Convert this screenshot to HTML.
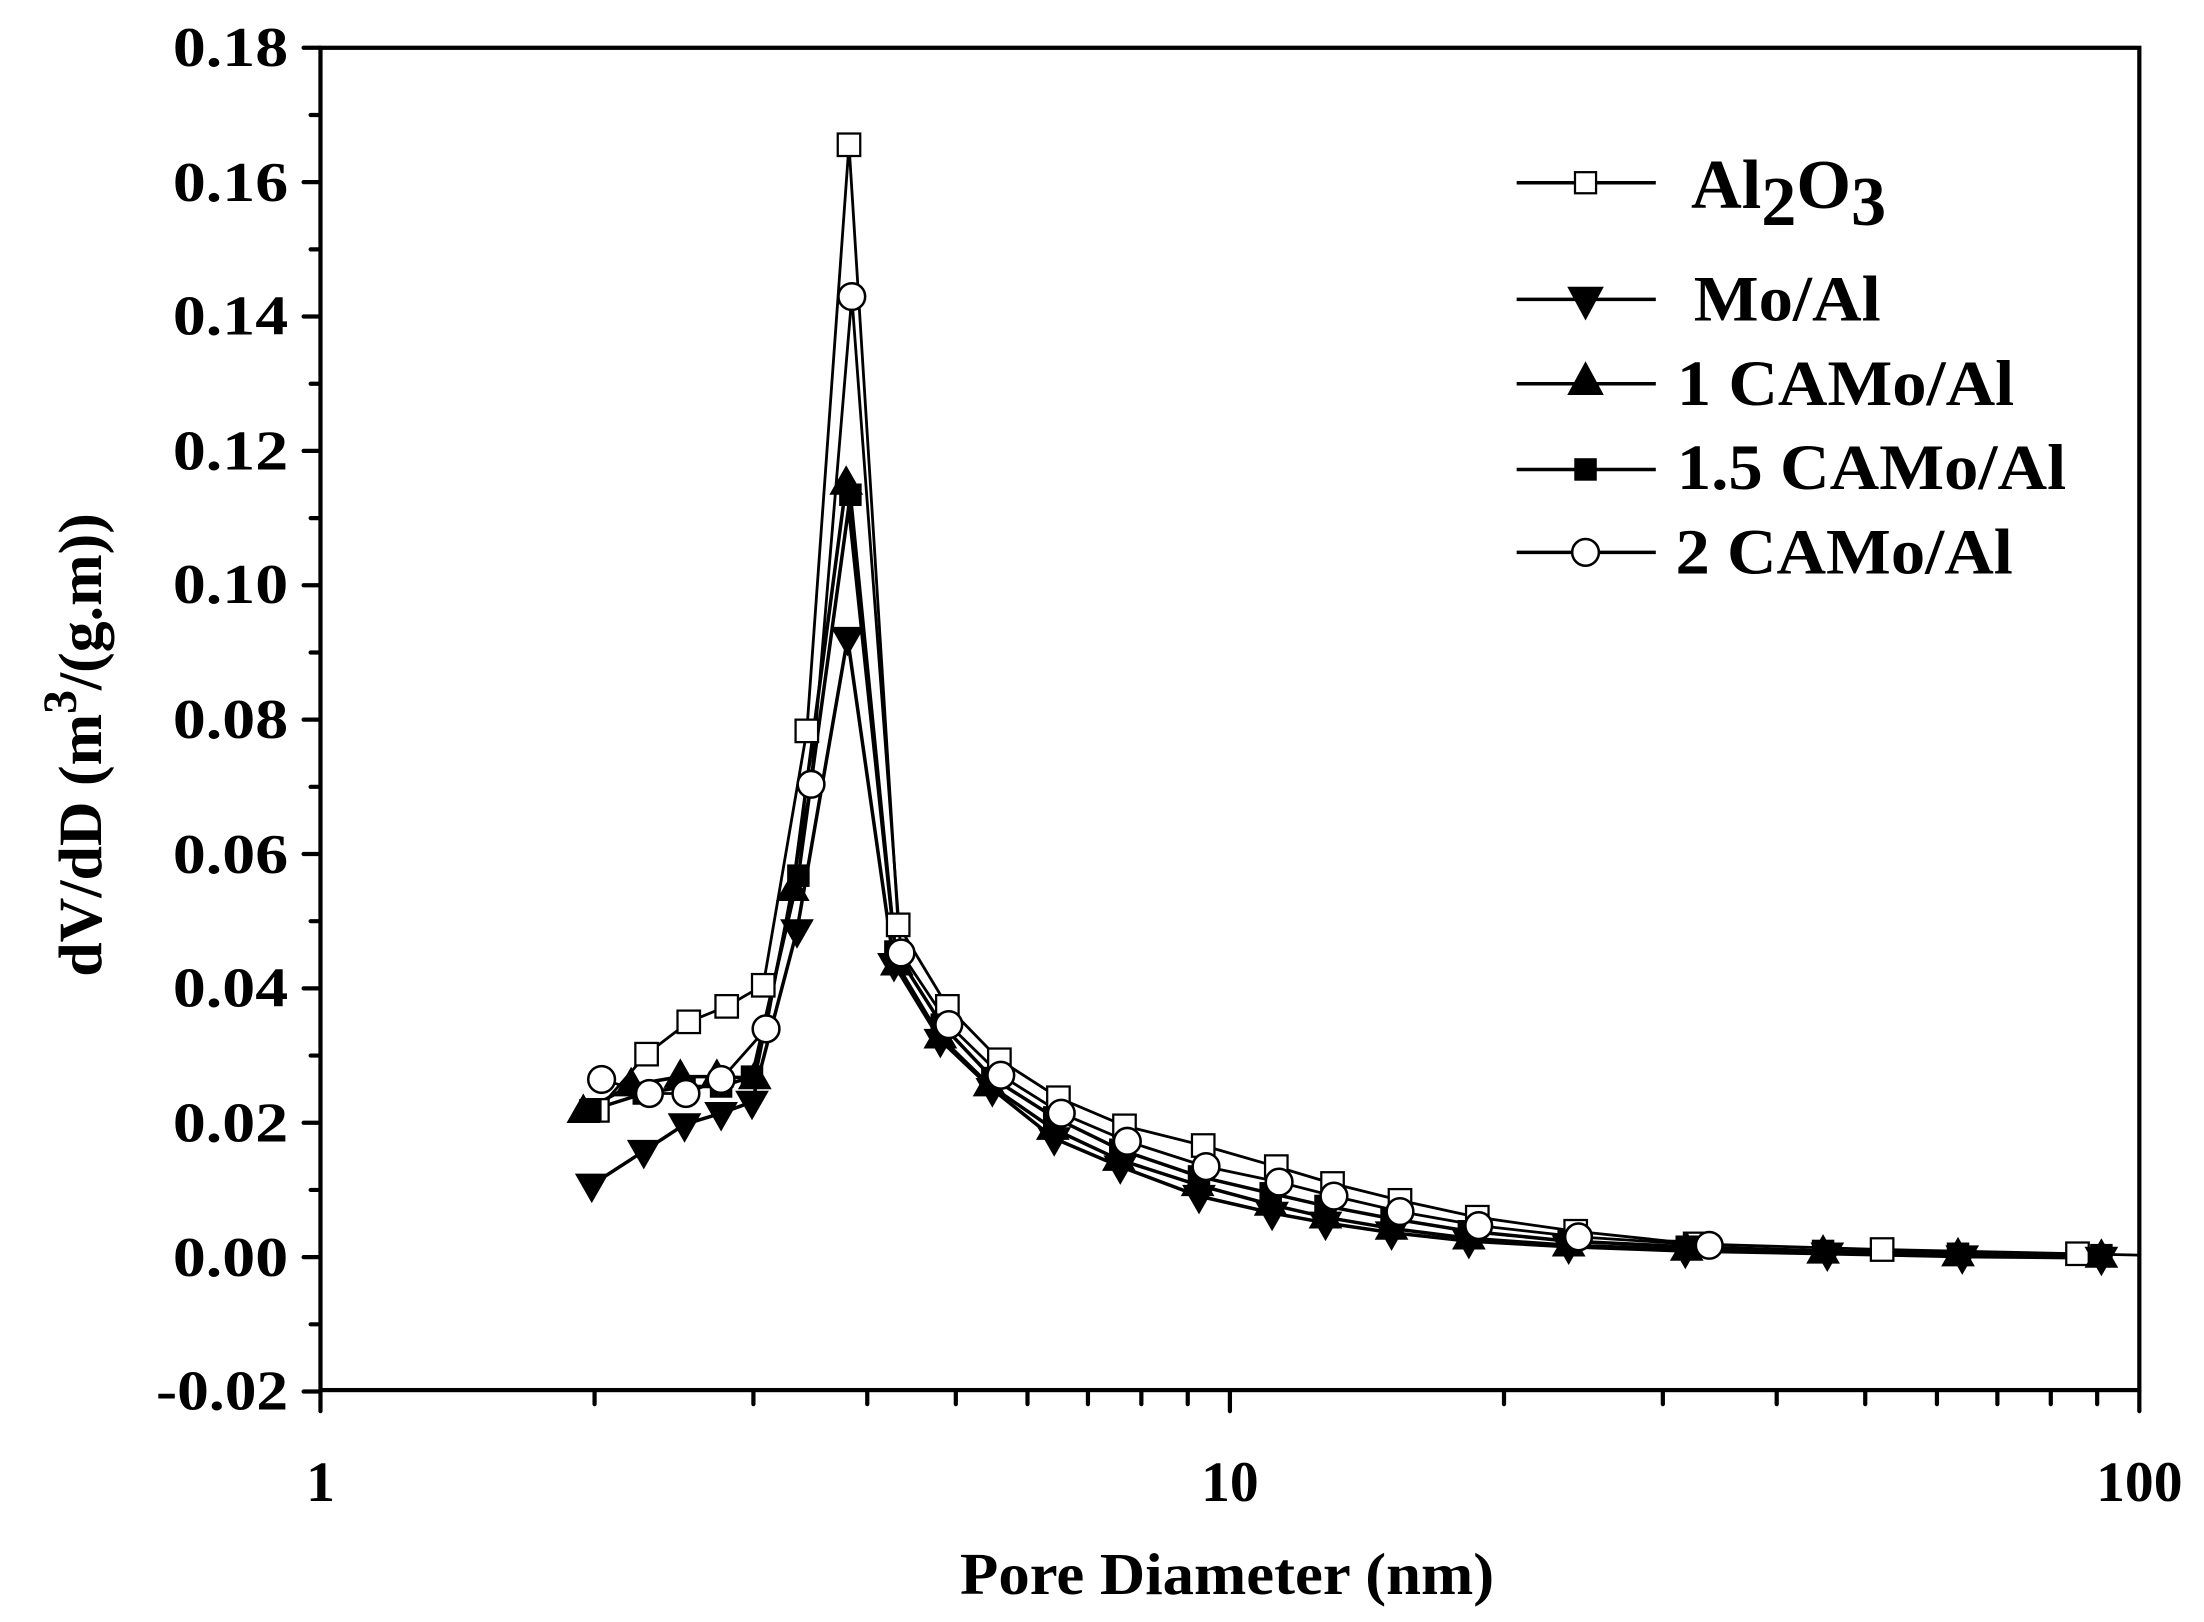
<!DOCTYPE html>
<html><head><meta charset="utf-8"><style>html,body{margin:0;padding:0;background:#fff}svg{display:block}</style></head>
<body>
<svg width="2204" height="1622" viewBox="0 0 1568 1154" preserveAspectRatio="none" xmlns="http://www.w3.org/2000/svg" font-family="'Liberation Serif', serif" font-weight="bold">
<defs>
<rect id="sq" x="-8" y="-8" width="16" height="16" fill="#fff" stroke="#000" stroke-width="1.6"/>
<rect id="fsq" x="-8" y="-8" width="16" height="16" fill="#000"/>
<circle id="ci" r="9.5" fill="#fff" stroke="#000" stroke-width="1.8"/>
<polygon id="dt" points="-12,-8 12,-8 0,13" fill="#000"/>
<polygon id="ut" points="-12,8 12,8 0,-13" fill="#000"/>
</defs>
<g stroke="#000" stroke-width="3" fill="none" stroke-linecap="round">
<rect x="228" y="34" width="1294" height="955"/>
<path d="M228,34h-12M228,129.6h-12M228,225.2h-12M228,320.8h-12M228,416.4h-12M228,512h-12M228,607.6h-12M228,703.2h-12M228,798.8h-12M228,894.4h-12M228,990h-12"/>
<path d="M228,81.8h-7M228,177.4h-7M228,273h-7M228,368.6h-7M228,464.2h-7M228,559.8h-7M228,655.4h-7M228,751h-7M228,846.6h-7M228,942.2h-7"/>
<path d="M228,989v15M875,989v15M1522,989v15"/>
<path d="M423,989v10M536,989v10M617,989v10M680,989v10M731,989v10M774,989v10M812,989v10M845,989v10M1070,989v10M1183,989v10M1264,989v10M1327,989v10M1378,989v10M1421,989v10M1459,989v10M1492,989v10"/>
</g>
<g font-size="40" text-anchor="end">
<text x="205" y="47" textLength="82" lengthAdjust="spacingAndGlyphs">0.18</text>
<text x="205" y="143" textLength="82" lengthAdjust="spacingAndGlyphs">0.16</text>
<text x="205" y="238" textLength="82" lengthAdjust="spacingAndGlyphs">0.14</text>
<text x="205" y="334" textLength="82" lengthAdjust="spacingAndGlyphs">0.12</text>
<text x="205" y="429" textLength="82" lengthAdjust="spacingAndGlyphs">0.10</text>
<text x="205" y="525" textLength="82" lengthAdjust="spacingAndGlyphs">0.08</text>
<text x="205" y="621" textLength="82" lengthAdjust="spacingAndGlyphs">0.06</text>
<text x="205" y="716" textLength="82" lengthAdjust="spacingAndGlyphs">0.04</text>
<text x="205" y="812" textLength="82" lengthAdjust="spacingAndGlyphs">0.02</text>
<text x="205" y="908" textLength="82" lengthAdjust="spacingAndGlyphs">0.00</text>
<text x="205" y="1003" textLength="94" lengthAdjust="spacingAndGlyphs">-0.02</text>
</g>
<g font-size="41" text-anchor="middle">
<text x="228" y="1068">1</text>
<text x="875" y="1068">10</text>
<text x="1522" y="1068">100</text>
</g>
<text x="873" y="1134" font-size="42" text-anchor="middle" textLength="380" lengthAdjust="spacingAndGlyphs">Pore Diameter (nm)</text>
<text transform="translate(72,530) rotate(-90)" font-size="44" text-anchor="middle">dV/dD (m<tspan dy="-18" font-size="34">3</tspan><tspan dy="18">/(g.m))</tspan></text>
<g fill="none" stroke="#000" stroke-width="2.5" stroke-linejoin="round">
<polyline stroke-width="2" points="425,790 460,750 490,727 517,716 543,701 574,520 604,103 639,658 674,716 711,754 753,781 800,801 856,815 908,830 948,842 996,854 1051,866 1121,876 1206,885 1339,889 1478,892 1522,893"/>
<polyline points="421,843 458,819 487,800 513,792 535,784 567,662 603,454 636,686 669,740 706,775 750,810 797,830 853,851 905,863 943,870 990,877 1045,883 1116,887 1199,890 1300,892 1396,894 1495,895"/>
<polyline points="415,791 449,772 484,766 510,766 537,767 564,633 602,344 638,686 669,738 704,772 749,803 796,825 852,843 904,857 943,866 990,874 1045,881 1116,886 1200,889 1297,891 1393,893 1495,894"/>
<polyline points="420,790 458,778 487,773 513,773 535,766 568,623 605,352 637,677 670,729 706,767 750,795 797,818 853,837 904,849 943,858 990,867 1045,876 1116,883 1200,887 1297,890 1393,892 1495,893"/>
<polyline stroke-width="2" points="428,768 462,778 488,778 513,768 545,732 577,558 606,211 641,678 675,729 712,765 755,792 802,812 858,830 910,841 949,851 996,862 1052,872 1123,880 1216,886"/>
</g>
<g>
<use href="#sq" x="425" y="790"/><use href="#sq" x="460" y="750"/><use href="#sq" x="490" y="727"/><use href="#sq" x="517" y="716"/><use href="#sq" x="543" y="701"/><use href="#sq" x="574" y="520"/><use href="#sq" x="604" y="103"/><use href="#sq" x="639" y="658"/><use href="#sq" x="674" y="716"/><use href="#sq" x="711" y="754"/><use href="#sq" x="753" y="781"/><use href="#sq" x="800" y="801"/><use href="#sq" x="856" y="815"/><use href="#sq" x="908" y="830"/><use href="#sq" x="948" y="842"/><use href="#sq" x="996" y="854"/><use href="#sq" x="1051" y="866"/><use href="#sq" x="1121" y="876"/><use href="#sq" x="1206" y="885"/><use href="#sq" x="1339" y="889"/><use href="#sq" x="1478" y="892"/>
<use href="#dt" x="421" y="843"/><use href="#dt" x="458" y="819"/><use href="#dt" x="487" y="800"/><use href="#dt" x="513" y="792"/><use href="#dt" x="535" y="784"/><use href="#dt" x="567" y="662"/><use href="#dt" x="603" y="454"/><use href="#dt" x="636" y="686"/><use href="#dt" x="669" y="740"/><use href="#dt" x="706" y="775"/><use href="#dt" x="750" y="810"/><use href="#dt" x="797" y="830"/><use href="#dt" x="853" y="851"/><use href="#dt" x="905" y="863"/><use href="#dt" x="943" y="870"/><use href="#dt" x="990" y="877"/><use href="#dt" x="1045" y="883"/><use href="#dt" x="1116" y="887"/><use href="#dt" x="1199" y="890"/><use href="#dt" x="1300" y="892"/><use href="#dt" x="1396" y="894"/><use href="#dt" x="1495" y="895"/>
<use href="#ut" x="415" y="791"/><use href="#ut" x="449" y="772"/><use href="#ut" x="484" y="766"/><use href="#ut" x="510" y="766"/><use href="#ut" x="537" y="767"/><use href="#ut" x="564" y="633"/><use href="#ut" x="602" y="344"/><use href="#ut" x="638" y="686"/><use href="#ut" x="669" y="738"/><use href="#ut" x="704" y="772"/><use href="#ut" x="749" y="803"/><use href="#ut" x="796" y="825"/><use href="#ut" x="852" y="843"/><use href="#ut" x="904" y="857"/><use href="#ut" x="943" y="866"/><use href="#ut" x="990" y="874"/><use href="#ut" x="1045" y="881"/><use href="#ut" x="1116" y="886"/><use href="#ut" x="1200" y="889"/><use href="#ut" x="1297" y="891"/><use href="#ut" x="1393" y="893"/><use href="#ut" x="1495" y="894"/>
<use href="#fsq" x="420" y="790"/><use href="#fsq" x="458" y="778"/><use href="#fsq" x="487" y="773"/><use href="#fsq" x="513" y="773"/><use href="#fsq" x="535" y="766"/><use href="#fsq" x="568" y="623"/><use href="#fsq" x="605" y="352"/><use href="#fsq" x="637" y="677"/><use href="#fsq" x="670" y="729"/><use href="#fsq" x="706" y="767"/><use href="#fsq" x="750" y="795"/><use href="#fsq" x="797" y="818"/><use href="#fsq" x="853" y="837"/><use href="#fsq" x="904" y="849"/><use href="#fsq" x="943" y="858"/><use href="#fsq" x="990" y="867"/><use href="#fsq" x="1045" y="876"/><use href="#fsq" x="1116" y="883"/><use href="#fsq" x="1200" y="887"/><use href="#fsq" x="1297" y="890"/><use href="#fsq" x="1393" y="892"/><use href="#fsq" x="1495" y="893"/>
<use href="#ci" x="428" y="768"/><use href="#ci" x="462" y="778"/><use href="#ci" x="488" y="778"/><use href="#ci" x="513" y="768"/><use href="#ci" x="545" y="732"/><use href="#ci" x="577" y="558"/><use href="#ci" x="606" y="211"/><use href="#ci" x="641" y="678"/><use href="#ci" x="675" y="729"/><use href="#ci" x="712" y="765"/><use href="#ci" x="755" y="792"/><use href="#ci" x="802" y="812"/><use href="#ci" x="858" y="830"/><use href="#ci" x="910" y="841"/><use href="#ci" x="949" y="851"/><use href="#ci" x="996" y="862"/><use href="#ci" x="1052" y="872"/><use href="#ci" x="1123" y="880"/><use href="#ci" x="1216" y="886"/>
</g>
<g stroke="#000" stroke-width="2.5">
<path d="M1079,130h99M1079,213h99M1079,273h99M1079,334h99M1079,393h99"/>
</g>
<rect x="1120.5" y="122.5" width="15" height="15" fill="#fff" stroke="#000" stroke-width="1.6"/>
<polygon points="1115,204 1141,204 1128,228" fill="#000"/>
<polygon points="1115,281 1141,281 1128,257" fill="#000"/>
<rect x="1120" y="326" width="16" height="16" fill="#000"/>
<circle cx="1128" cy="393" r="9.5" fill="#fff" stroke="#000" stroke-width="1.8"/>
<g font-size="46">
<text x="1203" y="148" font-size="50">Al<tspan dy="12">2</tspan><tspan dy="-12">O</tspan><tspan dy="12">3</tspan></text>
<text x="1205" y="228" textLength="133" lengthAdjust="spacingAndGlyphs">Mo/Al</text>
<text x="1193" y="288" textLength="240" lengthAdjust="spacingAndGlyphs">1 CAMo/Al</text>
<text x="1193" y="348" textLength="277" lengthAdjust="spacingAndGlyphs">1.5 CAMo/Al</text>
<text x="1192" y="408" textLength="240" lengthAdjust="spacingAndGlyphs">2 CAMo/Al</text>
</g>
</svg>
</body></html>
